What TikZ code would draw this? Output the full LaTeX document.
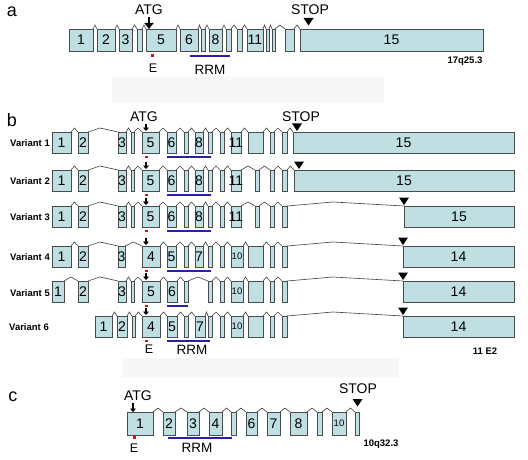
\documentclass[tikz,border=0pt]{standalone}
\usepackage{fontspec}
\setmainfont{Liberation Sans}
\usetikzlibrary{arrows.meta,calc}
\definecolor{exf}{HTML}{BFDFE3}
\definecolor{exb}{HTML}{474C4F}
\definecolor{rrmblue}{HTML}{2A20A8}
\definecolor{faint}{HTML}{F7F7F7}
\newcommand\rowT{0}
\newcommand\rowH{21}
\newcommand\ex[4]{\node[exon, minimum width={(#3-#2)*1pt}, minimum height={\rowH*1pt}, label={[exlab]center:#4}] (#1) at (#2,\rowT) {};}
\newcommand\exs[4]{\node[exon, minimum width={(#3-#2)*1pt}, minimum height={\rowH*1pt}, label={[exlabs]center:#4}] (#1) at (#2,\rowT) {};}
\newcommand\intr[2]{\draw[intron] (#1.north east) -- ($(#1.north east)!0.5!(#2.north west)+(0pt,4pt)$) -- (#2.north west);}
\newcommand\lintr[3]{\draw[intron] (#1.north east) -- (#3,{\rowT-4}) -- (#2.north west);}
\newcommand\atgsmall[1]{\draw[atgs] ([xshift=4pt,yshift=8pt]#1.north west) -- ([xshift=4pt,yshift=1pt]#1.north west);}
\newcommand\edot[1]{\fill[red] ([xshift=2.5pt,yshift=-2.5pt]#1.south west) rectangle ([xshift=5.5pt,yshift=-4.5pt]#1.south west);}
\newcommand\stoptri[2]{\fill ([xshift=#2-5pt,yshift=8.5pt]#1.north west) -- ([xshift=#2+5pt,yshift=8.5pt]#1.north west) -- ([xshift=#2,yshift=1pt]#1.north west) -- cycle;}
\begin{document}
\begin{tikzpicture}[x=1pt,y=-1pt,
  exon/.style={draw=exb, fill=exf, line width=0.85pt, inner sep=0pt, outer sep=0pt, anchor=north west},
  exlab/.style={font=\fontsize{14}{14}\selectfont, inner sep=0pt},
  exlabs/.style={font=\fontsize{9.5}{10}\selectfont, inner sep=0pt},
  intron/.style={draw=black!75, line width=0.6pt},
  txt/.style={font=\fontsize{14}{14}\selectfont, inner sep=0pt},
  panel/.style={font=\fontsize{18}{18}\selectfont, inner sep=0pt},
  vlab/.style={font=\fontsize{9.5}{10}\selectfont\bfseries, inner sep=0pt, anchor=east},
  loc/.style={font=\fontsize{9.5}{10}\selectfont\bfseries, inner sep=0pt},
  rrm/.style={draw=rrmblue, line width=2pt},
  atgs/.style={line width=1.6pt, -{Triangle[width=6pt,length=3.5pt]}},
]
\useasboundingbox (0,0) rectangle (528,460);
\fill[white] (0,0) rectangle (528,460);
% faint background patches
\fill[faint] (112,77) rectangle (384,103);
\fill[faint] (122,358) rectangle (399,377);

% ================= panel a =================
\node[panel] (pa) at (12,12) {a};
\renewcommand\rowT{29}\renewcommand\rowH{22}
\ex{a1}{69}{93}{1}
\ex{a2}{97}{115}{2}
\ex{a3}{119}{132}{3}
\ex{a4}{137}{142}{}
\ex{a5}{146}{176}{5}
\ex{a6}{180}{198}{6}
\ex{a7}{201}{205}{}
\ex{a8}{209}{222}{8}
\ex{a9}{226}{231}{}
\ex{a10}{237}{242}{}
\ex{a11}{247}{263}{11}
\ex{a12}{266}{269}{}
\ex{a13}{272}{275}{}
\ex{a14}{285}{294}{}
\ex{a15}{300}{483}{15}
\intr{a1}{a2}\intr{a2}{a3}\intr{a3}{a4}\intr{a4}{a5}\intr{a5}{a6}
\intr{a6}{a7}\intr{a7}{a8}\intr{a8}{a9}\intr{a9}{a10}\intr{a10}{a11}
\intr{a11}{a12}\intr{a12}{a13}\intr{a13}{a14}\intr{a14}{a15}
\node[txt] (atga) at (149,10) {ATG};
\draw[line width=2.4pt, -{Triangle[width=9pt,length=6pt]}] (atga.south) ++(0,-1.5pt) coordinate (atgs) -- (atgs |- a5.north);
\node[txt] (stopa) at (310,10) {STOP};
\fill (303.5,18) -- (313.5,18) -- (308.5,25.5) -- cycle;
\fill[red] (151,54) rectangle (154,57);
\node[font=\fontsize{12.5}{12}\selectfont, inner sep=0pt] (ea) at (153,68) {E};
\draw[rrm] (190,56) -- (230,56);
\node[font=\fontsize{13.5}{14}\selectfont, inner sep=0pt] (rrma) at (210,70) {RRM};
\node[loc] (loca) at (465,61) {17q25.3};

% ================= panel b =================
\node[panel] (pb) at (12,120) {b};
\node[txt] (atgb) at (144,117) {ATG};
\node[txt] (stopb) at (301,117) {STOP};

% ---- Variant 1
\renewcommand\rowT{132}\renewcommand\rowH{21}
\node[vlab] (vl1) at (50,143) {Variant 1};
\ex{v1e1}{52}{71}{1}
\ex{v1e2}{78}{88}{2}
\ex{v1e3}{118}{126}{3}
\ex{v1e4}{131}{134}{}
\ex{v1e5}{142}{159}{5}
\ex{v1e6}{167}{176}{6}
\ex{v1e7}{184}{188}{}
\ex{v1e8}{195}{203}{8}
\ex{v1e9}{208}{212}{}
\ex{v1e10}{220}{224}{}
\ex{v1e11}{231}{241}{11}
\ex{v1e12}{248}{263}{}
\ex{v1e13}{270}{274}{}
\ex{v1e14}{282}{287}{}
\ex{v1e15}{293}{514}{15}
\intr{v1e1}{v1e2}\lintr{v1e2}{v1e3}{100}\intr{v1e3}{v1e4}\intr{v1e4}{v1e5}
\intr{v1e5}{v1e6}\intr{v1e6}{v1e7}\intr{v1e7}{v1e8}\intr{v1e8}{v1e9}
\intr{v1e9}{v1e10}\intr{v1e10}{v1e11}\intr{v1e11}{v1e12}\intr{v1e12}{v1e13}
\intr{v1e13}{v1e14}\intr{v1e14}{v1e15}
\atgsmall{v1e5}\edot{v1e5}\stoptri{v1e15}{4pt}
\draw[rrm] ([yshift=-4pt]v1e6.south west) -- ([yshift=-4pt]v1e9.south west -| 211,0);

% ---- Variant 2
\renewcommand\rowT{170}
\node[vlab] (vl2) at (50,181) {Variant 2};
\ex{v2e1}{52}{71}{1}
\ex{v2e2}{78}{88}{2}
\ex{v2e3}{118}{126}{3}
\ex{v2e4}{131}{134}{}
\ex{v2e5}{142}{159}{5}
\ex{v2e6}{167}{176}{6}
\ex{v2e7}{184}{188}{}
\ex{v2e8}{195}{203}{8}
\ex{v2e9}{208}{212}{}
\ex{v2e10}{220}{224}{}
\ex{v2e11}{231}{241}{11}
\ex{v2e12}{255}{259}{}
\ex{v2e13}{270}{274}{}
\ex{v2e14}{282}{287}{}
\ex{v2e15}{294}{514}{15}
\intr{v2e1}{v2e2}\lintr{v2e2}{v2e3}{100}\intr{v2e3}{v2e4}\intr{v2e4}{v2e5}
\intr{v2e5}{v2e6}\intr{v2e6}{v2e7}\intr{v2e7}{v2e8}\intr{v2e8}{v2e9}
\intr{v2e9}{v2e10}\intr{v2e10}{v2e11}\intr{v2e11}{v2e12}\intr{v2e12}{v2e13}
\intr{v2e13}{v2e14}\intr{v2e14}{v2e15}
\atgsmall{v2e5}\edot{v2e5}\stoptri{v2e15}{5pt}
\draw[rrm] ([yshift=-4pt]v2e6.south west) -- ([yshift=-4pt]v2e9.south west -| 211,0);

% ---- Variant 3
\renewcommand\rowT{206}
\node[vlab] (vl3) at (50,217) {Variant 3};
\ex{v3e1}{52}{71}{1}
\ex{v3e2}{78}{88}{2}
\ex{v3e3}{118}{126}{3}
\ex{v3e4}{131}{134}{}
\ex{v3e5}{142}{159}{5}
\ex{v3e6}{167}{176}{6}
\ex{v3e7}{184}{188}{}
\ex{v3e8}{195}{203}{8}
\ex{v3e9}{208}{212}{}
\ex{v3e10}{220}{224}{}
\ex{v3e11}{231}{241}{11}
\ex{v3e12}{255}{259}{}
\ex{v3e13}{270}{274}{}
\ex{v3e14}{282}{287}{}
\ex{v3e15}{404}{514}{15}
\intr{v3e1}{v3e2}\lintr{v3e2}{v3e3}{100}\intr{v3e3}{v3e4}\intr{v3e4}{v3e5}
\intr{v3e5}{v3e6}\intr{v3e6}{v3e7}\intr{v3e7}{v3e8}\intr{v3e8}{v3e9}
\intr{v3e9}{v3e10}\intr{v3e10}{v3e11}\intr{v3e11}{v3e12}\intr{v3e12}{v3e13}
\intr{v3e13}{v3e14}\lintr{v3e14}{v3e15}{333}
\atgsmall{v3e5}\edot{v3e5}\stoptri{v3e15}{0pt}
\draw[rrm] ([yshift=-4pt]v3e6.south west) -- ([yshift=-4pt]v3e9.south west -| 211,0);

% ---- Variant 4
\renewcommand\rowT{246}
\node[vlab] (vl4) at (50,257) {Variant 4};
\ex{v4e1}{52}{71}{1}
\ex{v4e2}{78}{88}{2}
\ex{v4e3}{118}{125}{3}
\ex{v4e4}{142}{160}{4}
\ex{v4e5}{167}{176}{5}
\ex{v4e6}{184}{188}{}
\ex{v4e7}{195}{203}{7}
\ex{v4e8}{208}{212}{}
\ex{v4e9}{220}{224}{}
\exs{v4e10}{231}{243}{10}
\ex{v4e11}{248}{263}{}
\ex{v4e12}{270}{274}{}
\ex{v4e13}{282}{287}{}
\ex{v4e14}{403}{514}{14}
\intr{v4e1}{v4e2}\lintr{v4e2}{v4e3}{100}\intr{v4e3}{v4e4}
\intr{v4e4}{v4e5}\intr{v4e5}{v4e6}\intr{v4e6}{v4e7}\intr{v4e7}{v4e8}
\intr{v4e8}{v4e9}\intr{v4e9}{v4e10}\intr{v4e10}{v4e11}\intr{v4e11}{v4e12}
\intr{v4e12}{v4e13}\lintr{v4e13}{v4e14}{333}
\atgsmall{v4e4}\edot{v4e4}\stoptri{v4e14}{0pt}
\draw[rrm] ([yshift=-4pt]v4e5.south west) -- ([yshift=-4pt]v4e8.south west -| 211,0);

% ---- Variant 5
\renewcommand\rowT{281}
\node[vlab] (vl5) at (50,293) {Variant 5};
\ex{v5e1}{52}{64}{1}
\ex{v5e2}{78}{88}{2}
\ex{v5e3}{118}{126}{3}
\ex{v5e4}{131}{134}{}
\ex{v5e5}{142}{160}{5}
\ex{v5e6}{167}{177}{6}
\ex{v5e7}{184}{188}{}
\ex{v5e8}{208}{212}{}
\ex{v5e9}{220}{224}{}
\exs{v5e10}{231}{243}{10}
\ex{v5e11}{248}{263}{}
\ex{v5e12}{270}{274}{}
\ex{v5e13}{282}{287}{}
\ex{v5e14}{403}{514}{14}
\intr{v5e1}{v5e2}\lintr{v5e2}{v5e3}{100}\intr{v5e3}{v5e4}\intr{v5e4}{v5e5}
\intr{v5e5}{v5e6}\intr{v5e6}{v5e7}\lintr{v5e7}{v5e8}{198}
\intr{v5e8}{v5e9}\intr{v5e9}{v5e10}\intr{v5e10}{v5e11}\intr{v5e11}{v5e12}
\intr{v5e12}{v5e13}\lintr{v5e13}{v5e14}{333}
\atgsmall{v5e5}\edot{v5e5}\stoptri{v5e14}{0pt}
\draw[rrm] ([yshift=-4pt]v5e6.south west) -- ([yshift=-4pt]v5e7.south east);

% ---- Variant 6
\renewcommand\rowT{316}
\node[vlab] (vl6) at (49,327) {Variant 6};
\ex{v6e1}{95}{112}{1}
\ex{v6e2}{117}{127}{2}
\ex{v6e3}{132}{135}{}
\ex{v6e4}{142}{160}{4}
\ex{v6e5}{167}{177}{5}
\ex{v6e6}{184}{188}{}
\ex{v6e7}{195}{205}{7}
\ex{v6e8}{208}{212}{}
\ex{v6e9}{220}{224}{}
\exs{v6e10}{231}{243}{10}
\ex{v6e11}{248}{263}{}
\ex{v6e12}{270}{274}{}
\ex{v6e13}{282}{287}{}
\ex{v6e14}{403}{514}{14}
\intr{v6e1}{v6e2}\intr{v6e2}{v6e3}\intr{v6e3}{v6e4}
\intr{v6e4}{v6e5}\intr{v6e5}{v6e6}\intr{v6e6}{v6e7}\intr{v6e7}{v6e8}
\intr{v6e8}{v6e9}\intr{v6e9}{v6e10}\intr{v6e10}{v6e11}\intr{v6e11}{v6e12}
\intr{v6e12}{v6e13}\lintr{v6e13}{v6e14}{333}
\atgsmall{v6e4}\edot{v6e4}\stoptri{v6e14}{0pt}
\draw[rrm] ([yshift=-4pt]v6e5.south west) -- ([yshift=-4pt]v6e8.south west -| 210,0);
\node[font=\fontsize{12.5}{12}\selectfont, inner sep=0pt] (eb) at (149,349) {E};
\node[font=\fontsize{13.5}{14}\selectfont, inner sep=0pt] (rrmb) at (192,350) {RRM};
\node[loc] (locb) at (485,351) {11 E2};

% ================= panel c =================
\node[panel] (pc) at (13,397) {c};
\renewcommand\rowT{412}\renewcommand\rowH{23}
\ex{c1}{127}{153}{1}
\ex{c2}{163}{175}{2}
\ex{c3}{187}{199}{3}
\ex{c4}{209}{222}{4}
\ex{c5}{231}{236}{}
\ex{c6}{246}{257}{6}
\ex{c7}{267}{280}{7}
\ex{c8}{290}{307}{8}
\ex{c9}{317}{322}{}
\exs{c10}{332}{346}{10}
\ex{c11}{355}{359}{}
\intr{c1}{c2}\intr{c2}{c3}\intr{c3}{c4}\intr{c4}{c5}\intr{c5}{c6}
\intr{c6}{c7}\intr{c7}{c8}\intr{c8}{c9}\intr{c9}{c10}\intr{c10}{c11}
\node[txt] (atgc) at (138,396) {ATG};
\draw[atgs] (133,403) -- (c1.north west -| 133,0);
\node[txt] (stopc) at (358,389) {STOP};
\fill (352.5,399) -- (362.5,399) -- (357.5,406.5) -- cycle;
\fill[red] (133,436) rectangle (136,438.5);
\node[font=\fontsize{12.5}{12}\selectfont, inner sep=0pt] (ec) at (134,448) {E};
\draw[rrm] (168,438) -- (232,438);
\node[font=\fontsize{13.5}{14}\selectfont, inner sep=0pt] (rrmc) at (197,448) {RRM};
\node[loc] (locc) at (381,444) {10q32.3};
\end{tikzpicture}
\end{document}
